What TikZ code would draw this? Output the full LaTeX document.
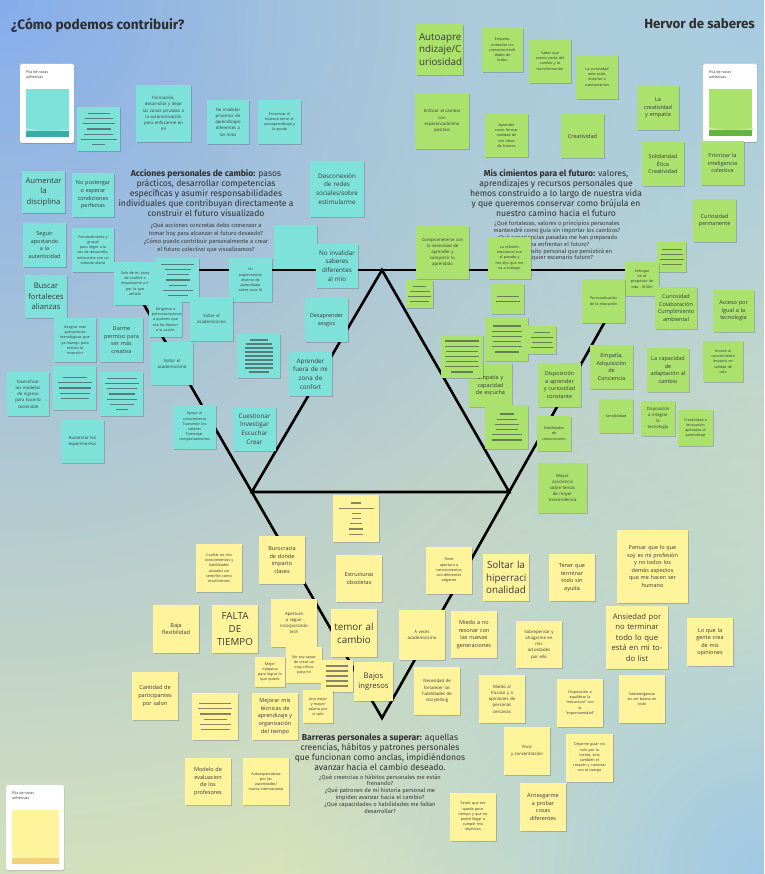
\documentclass[tikz,border=0pt]{standalone}
\usepackage{fontspec}
\setmainfont{Open Sans}
\newfontfamily\headfont{Fira Sans}
\usetikzlibrary{shadows,fadings,calc}
\definecolor{noteC}{HTML}{7EE2DA}
\definecolor{noteG}{HTML}{ABE16D}
\definecolor{noteY}{HTML}{FFF39C}
\definecolor{bgmid}{HTML}{E0E8B6}
\definecolor{bgTL}{HTML}{86AEEC}
\definecolor{bgTR}{HTML}{A6CBE2}
\definecolor{bgBR}{HTML}{A0C8E6}
\definecolor{txt}{HTML}{3A3A3A}
\definecolor{headtxt}{HTML}{2E2E2E}
\tikzfading[name=radfade, inner color=transparent!0, outer color=transparent!100]
\newcommand\fmini{\fontsize{3.7}{5.2}\selectfont}
\newcommand\ftiny{\fontsize{4.3}{6.2}\selectfont}
\newcommand\fsmall{\fontsize{5.5}{7.6}\selectfont}
\newcommand\fmed{\fontsize{6.3}{8.8}\selectfont}
\newcommand\fbig{\fontsize{7.7}{10.5}\selectfont}
\newcommand\fhuge{\fontsize{9.8}{12.8}\selectfont}
% name, colour, x, y, w, h, font, text
\newcommand{\sticky}[8]{%
  \pgfmathsetmacro\stw{#5-6}%
  \pgfmathsetmacro\scx{#3+#5/2}%
  \pgfmathsetmacro\scy{#4+#6/2}%
  \node[note, fill=#2, minimum width=#5pt, minimum height=#6pt, text width=\stw pt, font=#7] (#1) at (\scx,\scy) {#8};%
}
% name, colour, x, y, w, h, n, widths
\newcommand{\barsnote}[8]{%
  \sticky{#1}{#2}{#3}{#4}{#5}{#6}{\ftiny}{}%
  \pgfmathsetmacro\bsp{min(5.2,(#6-12)/max(#7-1,1))}%
  \pgfmathsetmacro\btop{#4+#6/2-(#7-1)*\bsp/2}%
  \foreach \bw [count=\bi] in {#8} {\draw[bar] ({#3+#5/2-\bw/2},{\btop+(\bi-1)*\bsp}) -- ++(\bw,0);}%
}
% name, colour, dark colour, x, y, w, h
\newcommand{\pile}[7]{%
  \pgfmathsetmacro\pcx{#4+#6/2}%
  \pgfmathsetmacro\pcy{#5+#7/2}%
  \node[pilecard, minimum width=#6pt, minimum height=#7pt] (#1) at (\pcx,\pcy) {};%
  \node[anchor=north west, inner sep=0pt, align=left, text=txt, font=\fmini] (#1l) at ({#4+6},{#5+6}) {Pila de notas\\adhesivas};%
  \fill[#2] ({#4+6},{#5+25}) rectangle ({#4+#6-5},{#5+#7-6});%
  \fill[#2!70!white] ({#4+6},{#5+#7-15}) .. controls ({#4+20},{#5+#7-11}) and ({#4+35},{#5+#7-12}) .. ({#4+#6-4},{#5+#7-14}) -- ({#4+#6-5},{#5+#7-11}) -- ({#4+6},{#5+#7-11}) -- cycle;%
  \fill[#3] ({#4+6},{#5+#7-12}) rectangle ({#4+#6-5},{#5+#7-6});%
}
\begin{document}
\begin{tikzpicture}[x=1pt,y=-1pt,
  note/.style={draw=none, inner sep=0pt, align=center, text=txt,
    drop shadow={shadow xshift=0.7pt, shadow yshift=-1pt, opacity=0.18, fill=black}},
  bar/.style={line width=1.2pt, draw=black!75, opacity=0.62},
  frame/.style={line width=2.6pt, draw=black},
  pilecard/.style={fill=white, draw=none, rounded corners=1.5pt, inner sep=0pt,
    drop shadow={shadow xshift=0.5pt, shadow yshift=-1pt, opacity=0.15, fill=black}},
  headtxt/.style={inner sep=0pt, text=headtxt, align=center}]
\useasboundingbox (0,0) rectangle (764,874);
% background
\fill[bgmid] (0,0) rectangle (764,874);
\begin{scope}
\clip (0,0) rectangle (764,874);
\fill[bgTL, path fading=radfade] (0,0) circle (1000);
\fill[bgTR, path fading=radfade] (764,0) circle (600);
\fill[bgBR, path fading=radfade] (764,874) circle (480);
\end{scope}
% frame lines
\coordinate (L) at (124,270);
\coordinate (R) at (634,270);
\coordinate (B) at (382,718);
\coordinate (T) at (382,270);
\coordinate (BL) at ($(L)!0.4955!(B)$);
\coordinate (BR) at ($(R)!0.4955!(B)$);
\draw[frame] (L) -- (R);
\draw[frame] (L) -- (B) -- (R);
\draw[frame] (T) -- (BL) -- (BR) -- cycle;
% titles
\node[anchor=base west, inner sep=0pt, text=headtxt, font={\headfont\bfseries\fontsize{13.6}{16}\selectfont}] (title1) at (11,30) {¿Cómo podemos contribuir?};
\node[anchor=base east, inner sep=0pt, text=headtxt, font={\headfont\bfseries\fontsize{13.3}{16}\selectfont}] (title2) at (755,29) {Hervor de saberes};
% headings
\node[headtxt, font={\headfont\fontsize{8.6}{10}\selectfont}] (h1) at (206,193) {\textbf{Acciones personales de cambio:} pasos\\prácticos, desarrollar competencias\\específicas y asumir responsabilidades\\individuales que contribuyan directamente a\\construir el futuro visualizado};
\node[headtxt, text=txt, font={\headfont\fontsize{5.8}{8}\selectfont}] (q1) at (206,238) {¿Qué acciones concretas debo comenzar a\\tomar hoy para alcanzar el futuro deseado?\\¿Cómo puedo contribuir personalmente a crear\\el futuro colectivo que visualizamos?};
\node[headtxt, font={\headfont\fontsize{8.6}{10}\selectfont}] (h2) at (556,193) {\textbf{Mis cimientos para el futuro:} valores,\\aprendizajes y recursos personales que\\hemos construido a lo largo de nuestra vida\\y que queremos conservar como brújula en\\nuestro camino hacia el futuro};
\node[headtxt, text=txt, font={\headfont\fontsize{5.8}{6.9}\selectfont}] (q2) at (557,241) {¿Qué fortalezas, valores o principios personales\\mantendré como guía sin importar los cambios?\\¿Qué experiencias pasadas me han preparado\\para enfrentar el futuro?\\¿Qué propósito personal que persistirá en\\cualquier escenario futuro?};
\node[headtxt, font={\headfont\fontsize{8.6}{10}\selectfont}] (h3) at (380,752) {\textbf{Barreras personales a superar:} aquellas\\creencias, hábitos y patrones personales\\que funcionan como anclas, impidiéndonos\\avanzar hacia el cambio deseado.};
\node[headtxt, text=txt, font={\headfont\fontsize{5.8}{6.9}\selectfont}] (q3) at (380,794) {¿Qué creencias o hábitos personales me están\\frenando?\\¿Qué patrones de mi historia personal me\\impiden avanzar hacia el cambio?\\¿Qué capacidades o habilidades me faltan\\desarrollar?};
% piles
\pile{p1}{noteC}{teal!55!noteC}{20}{64}{54}{79}
\pile{p2}{noteG}{green!45!black!40!noteG}{703}{64}{54}{78}
\pile{p3}{noteY}{orange!40!brown!30!noteY}{6}{785}{58}{85}
% cyan notes
\barsnote{c1}{noteC}{77}{107}{43}{44}{7}{22,28,32,24,29,36,13}
\sticky{c2}{noteC}{136}{85}{55}{57}{\ftiny}{Formación,\\desarrollar y dejar\\las zonas privadas a\\la automotivación\\para enfocarme en\\mí}
\sticky{c3}{noteC}{207}{100}{42}{44}{\ftiny}{No invalidar\\procesos de\\aprendizajes\\diferentes a\\los míos}
\sticky{c4}{noteC}{258}{100}{43}{44}{\fmini}{Encontrar el\\balance entre el\\autoaprendizaje y\\la ayuda}
\sticky{c5}{noteC}{22}{171}{43}{42}{\fbig}{Aumentar\\la\\disciplina}
\sticky{c6}{noteC}{72}{173}{42}{44}{\fsmall}{No postergar\\o esperar\\condiciones\\perfectas}
\sticky{c7}{noteC}{310}{161}{54}{56}{\fmed}{Desconexión\\de redes\\sociales/sobre\\estimularme}
\sticky{c8}{noteC}{23}{223}{43}{44}{\fsmall}{Seguir\\apostando\\a la\\autenticidad}
\sticky{c9}{noteC}{72}{228}{42}{44}{\fmini}{Personalmente y\\grupal\\para llegar a la\\vez de desarrollo,\\enfocarme con un\\método diario}
\sticky{c10}{noteC}{274}{225}{43}{44}{\ftiny}{}
\sticky{c11}{noteC}{229}{258}{43}{44}{\fmini}{Un\\experimentar\\diverso de\\aprendizaje\\sobre usos IA}
\sticky{c12}{noteC}{114}{262}{42}{43}{\fmini}{Salir de mi zona\\de confort e\\impulsarme a ir\\por lo que\\anhelo}
\barsnote{c13}{noteC}{156}{258}{43}{44}{7}{33,26,22,24,18,30,20}
\sticky{c14}{noteC}{316}{244}{42}{44}{\fmed}{No invalidar\\saberes\\diferentes\\al mío}
\sticky{c15}{noteC}{25}{275}{42}{43}{\fbig}{Buscar\\fortaleces\\alianzas}
\sticky{c16}{noteC}{149}{302}{33}{35}{\fmini}{Dirigirme a\\personas/actores\\a quienes que\\me los llamen\\a la acción}
\sticky{c17}{noteC}{190}{297}{43}{44}{\ftiny}{Soltar el\\academicismo}
\sticky{c18}{noteC}{305}{298}{43}{44}{\fsmall}{Desaprender\\sesgos}
\sticky{c19}{noteC}{54}{318}{42}{44}{\fmini}{Integrar más\\aplicaciones\\tecnológicas que\\ya manejo para\\reducir la\\inversión}
\sticky{c20}{noteC}{100}{318}{43}{44}{\fsmall}{Darme\\permiso para\\ser más\\creativa}
\sticky{c21}{noteC}{151}{342}{42}{43}{\ftiny}{Soltar el\\academicismo}
\barsnote{c22}{noteC}{237}{334}{43}{44}{9}{18,26,28,28,28,28,28,28,20}
\sticky{c23}{noteC}{289}{352}{43}{44}{\fmed}{Aprender\\fuera de mi\\zona de\\confort}
\sticky{c24}{noteC}{7}{372}{42}{44}{\ftiny}{Diversificar\\los modelos\\de ingreso\\para hacerlo\\sostenible}
\barsnote{c25}{noteC}{53}{366}{43}{44}{5}{24,34,32,30,28}
\barsnote{c26}{noteC}{100}{372}{43}{44}{7}{30,34,30,26,30,24,12}
\sticky{c27}{noteC}{173}{405}{43}{44}{\fmini}{Apoyo al\\conocimiento\\Transmitir los\\saberes\\Fomentar\\comportamientos}
\sticky{c28}{noteC}{233}{407}{43}{44}{\fmed}{Cuestionar\\Investigar\\Escuchar\\Crear}
\sticky{c29}{noteC}{61}{420}{43}{43}{\ftiny}{Aumentar los\\experimentos}
% green notes
\sticky{g1}{noteG}{416}{24}{47}{51}{\fhuge}{Autoapre\\ndizaje/C\\uriosidad}
\sticky{g2}{noteG}{482}{28}{41}{44}{\fmini}{Empatía:\\entender los\\contextos/reali-\\dades de\\todos.}
\sticky{g3}{noteG}{529}{39}{42}{44}{\fmini}{Saber que\\somos parte del\\cambio y la\\transformación}
\sticky{g4}{noteG}{576}{55}{42}{44}{\fmini}{La curiosidad\\ante todo,\\enseñar a\\cuestionarnos}
\sticky{g5}{noteG}{637}{86}{42}{44}{\fsmall}{La\\creatividad\\y empatía}
\sticky{g6}{noteG}{415}{93}{54}{56}{\ftiny}{Enfocar el cambio\\con\\esperanza/ánimo\\positivo}
\sticky{g7}{noteG}{485}{114}{43}{43}{\fmini}{Aprender\\como formar\\realidad de\\mis ideas\\de futuros}
\sticky{g8}{noteG}{561}{114}{43}{44}{\fsmall}{Creatividad}
\sticky{g9}{noteG}{642}{142}{42}{44}{\fsmall}{Solidaridad\\Ética\\Creatividad}
\sticky{g10}{noteG}{701}{141}{43}{44}{\fsmall}{Priorizar la\\inteligencia\\colectiva}
\sticky{g11}{noteG}{693}{199}{43}{43}{\fsmall}{Curiosidad\\permanente}
\sticky{g12}{noteG}{416}{226}{53}{53}{\ftiny}{Comprometerse con\\la necesidad de\\aprender y\\compartir lo\\aprendido}
\sticky{g13}{noteG}{488}{237}{43}{42}{\fmini}{La relación\\emocional con\\el pasado y\\me dijo que me\\va a trabajar}
\barsnote{g14}{noteG}{406}{280}{27}{28}{4}{13,20,23,19}
\barsnote{g15}{noteG}{491}{284}{33}{30}{2}{22,24}
\barsnote{g16}{noteG}{485}{317}{43}{44}{6}{28,30,30,28,30,24}
\sticky{g17}{noteG}{469}{363}{43}{44}{\fsmall}{Empatía y\\capacidad\\de escucha}
\barsnote{g18}{noteG}{441}{335}{42}{43}{7}{34,34,32,34,32,34,22}
\barsnote{g19}{noteG}{485}{405}{43}{44}{6}{14,20,24,22,30,30}
\barsnote{g20}{noteG}{657}{242}{29}{30}{4}{20,22,24,20}
\sticky{g21}{noteG}{625}{262}{34}{34}{\fmini}{Enfoque\\en el\\propósito de\\vida - IKIGAI}
\sticky{g22}{noteG}{582}{279}{43}{44}{\fmini}{Personalización\\de la educación}
\sticky{g23}{noteG}{655}{287}{42}{42}{\fsmall}{Curiosidad\\Colaboración\\Cumplimiento\\ambiental}
\sticky{g24}{noteG}{713}{290}{41}{42}{\fsmall}{Acceso por\\igual a la\\tecnología}
\barsnote{g25}{noteG}{528}{326}{28}{28}{4}{16,22,20,22}
\sticky{g26}{noteG}{590}{345}{43}{44}{\fsmall}{Empatía,\\Adquisición\\de\\Conciencia}
\sticky{g27}{noteG}{647}{348}{42}{44}{\fsmall}{La capacidad\\de\\adaptación al\\cambio}
\sticky{g28}{noteG}{703}{341}{40}{41}{\fmini}{Acceso al\\conocimiento\\Impacto en\\calidad de\\vida}
\sticky{g29}{noteG}{538}{363}{43}{44}{\fsmall}{Disposición\\a aprender\\y curiosidad\\constante}
\sticky{g30}{noteG}{599}{399}{34}{34}{\fmini}{Sensibilidad}
\sticky{g31}{noteG}{641}{401}{34}{35}{\ftiny}{Disposición\\a integrar\\la\\tecnología}
\sticky{g32}{noteG}{678}{410}{35}{36}{\fmini}{Creatividad e\\innovación\\aplicadas al\\aprendizaje}
\sticky{g33}{noteG}{537}{416}{34}{35}{\fmini}{Habilidades\\de\\comunicación}
\sticky{g34}{noteG}{538}{463}{49}{50}{\ftiny}{Mayor\\conciencia\\sobre temas\\de mayor\\trascendencia}
% yellow notes
\barsnote{y1}{noteY}{333}{495}{46}{47}{7}{10,35,9,9,12,14,14}
\sticky{y2}{noteY}{196}{544}{46}{48}{\fmini}{Confiar en mis\\conocimientos y\\habilidades\\actuales sin\\sentirlos como\\insuficientes}
\sticky{y3}{noteY}{259}{536}{46}{48}{\fsmall}{Burocracia\\de donde\\imparto\\clases}
\sticky{y4}{noteY}{336}{555}{46}{47}{\fsmall}{Estructuras\\obsoletas}
\sticky{y5}{noteY}{426}{547}{46}{47}{\fmini}{Tener\\apertura a\\conocimientos\\con diferentes\\orígenes}
\sticky{y6}{noteY}{483}{554}{46}{47}{\fhuge}{Soltar la\\hiperraci\\onalidad}
\sticky{y7}{noteY}{549}{554}{46}{47}{\fsmall}{Tener que\\terminar\\todo sin\\ayuda}
\sticky{y8}{noteY}{617}{530}{71}{73}{\fsmall}{Pensar que lo que\\soy es mi profesión\\y no todos los\\demás aspectos\\que me hacen ser\\humano}
\sticky{y9}{noteY}{153}{605}{46}{48}{\fsmall}{Baja\\flexibilidad}
\sticky{y10}{noteY}{212}{605}{46}{48}{\fhuge}{FALTA\\DE\\TIEMPO}
\sticky{y11}{noteY}{271}{599}{46}{48}{\ftiny}{Apertura\\a seguir\\incorporando\\tech}
\sticky{y12}{noteY}{331}{609}{46}{48}{\fhuge}{temor al\\cambio}
\sticky{y13}{noteY}{399}{610}{46}{50}{\ftiny}{A veces\\academicismo}
\sticky{y14}{noteY}{451}{611}{46}{47}{\fsmall}{Miedo a no\\resonar con\\las nuevas\\generaciones}
\sticky{y15}{noteY}{516}{621}{46}{47}{\ftiny}{Sobrepensar y\\ahogarme en\\mis\\actividades\\por ello}
\sticky{y16}{noteY}{606}{606}{62}{63}{\fbig}{Ansiedad por\\no terminar\\todo lo que\\está en mi to-\\do list}
\sticky{y17}{noteY}{687}{618}{46}{48}{\fsmall}{Lo que la\\gente crea\\de mis\\opiniones}
\sticky{y18}{noteY}{286}{647}{36}{36}{\fmini}{No soy capaz\\de crear un\\muy crítico\\para mí}
\sticky{y19}{noteY}{255}{657}{30}{30}{\fmini}{Mejor\\máquina\\para lograr lo\\que quiero}
\barsnote{y20}{noteY}{321}{660}{32}{32}{5}{22,22,22,22,22}
\sticky{y21}{noteY}{354}{662}{39}{39}{\fbig}{Bajos\\ingresos}
\sticky{y22}{noteY}{132}{672}{46}{48}{\fsmall}{Cantidad de\\participantes\\por salon}
\sticky{y23}{noteY}{414}{667}{46}{48}{\ftiny}{Necesidad de\\fortalecer las\\habilidades de\\storytelling}
\sticky{y24}{noteY}{479}{675}{46}{48}{\ftiny}{Miedo al\\fracaso y a\\opiniones de\\personas\\cercanas}
\sticky{y25}{noteY}{557}{679}{46}{48}{\fmini}{Disposición a\\equilibrar la\\“estructura” con\\la\\“espontaneidad”}
\sticky{y26}{noteY}{619}{675}{46}{48}{\fmini}{Sobreexigencia\\en ser buena en\\todo}
\barsnote{y27}{noteY}{192}{693}{46}{47}{6}{32,34,31,23,31,29}
\sticky{y28}{noteY}{252}{693}{46}{47}{\fsmall}{Mejorar mis\\técnicas de\\aprendizaje y\\organización\\del tiempo}
\sticky{y29}{noteY}{303}{690}{30}{33}{\fmini}{Una mejor\\y mayor\\salario por\\sí solo}
\sticky{y30}{noteY}{504}{727}{46}{48}{\ftiny}{Foco\\y concentración}
\sticky{y31}{noteY}{566}{734}{47}{48}{\fmini}{Dejarme guiar no\\solo por la\\mente, sino\\también el\\corazón y conectar\\con el cuerpo}
\sticky{y32}{noteY}{185}{758}{46}{47}{\fsmall}{Modelo de\\evaluacion\\de los\\profesores}
\sticky{y33}{noteY}{243}{758}{46}{47}{\fmini}{Autoexpectativas\\por las\\autoridades/\\marca internacional}
\sticky{y34}{noteY}{450}{793}{46}{48}{\fmini}{Sentir que me\\queda poco\\tiempo y que no\\podré llegar a\\cumplir mis\\objetivos}
\sticky{y35}{noteY}{520}{783}{46}{48}{\fsmall}{Arriesgarme\\a probar\\cosas\\diferentes}
\end{tikzpicture}
\end{document}
